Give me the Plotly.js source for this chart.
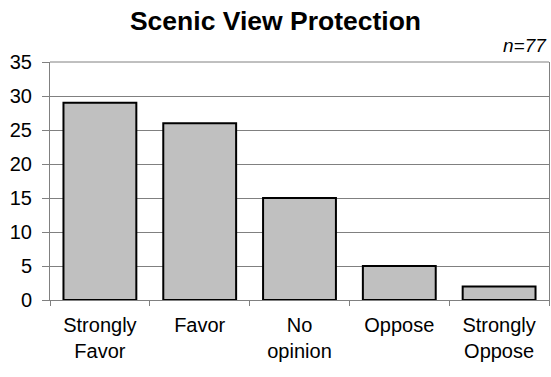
<!DOCTYPE html>
<html><head><meta charset="utf-8">
<script src="https://cdn.plot.ly/plotly-3.0.1.min.js"></script>
<style>html,body{margin:0;padding:0;background:#fff;}#chart{width:551px;height:377px;}</style>
</head><body><div id="chart"></div>
<script>
const categories = ["Strongly<br>Favor", "Favor", "No<br>opinion", "Oppose", "Strongly<br>Oppose"];
const counts = [29, 26, 15, 5, 2];
const yTicks = [0, 5, 10, 15, 20, 25, 30, 35];
const titleText = "Scenic View Protection";
const noteText = "n=77";

const font = "Liberation Sans, Arial, sans-serif";
Plotly.newPlot("chart", [{
  type: "bar", x: categories, y: counts,
  marker: {color: "#c0c0c0", line: {color: "#000", width: 2}},
  hoverinfo: "none"
}], {
  width: 551, height: 377,
  margin: {l: 50, r: 2, t: 62, b: 77},
  paper_bgcolor: "#fff", plot_bgcolor: "#fff",
  bargap: 0.27,
  showlegend: false,
  font: {family: font, size: 19, color: "#000"},
  title: {text: "<b>" + titleText + "</b>", font: {family: font, size: 26.5, color: "#000"}, x: 0.5, xanchor: "center", y: 0.945, yanchor: "middle"},
  xaxis: {
    type: "category", tickson: "boundaries", ticks: "outside", ticklen: 5, tickcolor: "#808080",
    showline: true, linecolor: "#808080", linewidth: 1, showgrid: false,
    tickfont: {size: 20}, ticklabelstandoff: 7, fixedrange: true
  },
  yaxis: {
    range: [0, 35], tickvals: yTicks, ticks: "outside", ticklen: 7, tickcolor: "#808080",
    showline: true, linecolor: "#808080", linewidth: 1, mirror: true,
    showgrid: true, gridcolor: "#808080", gridwidth: 1, zeroline: false,
    tickfont: {size: 20}, ticklabelstandoff: 6, fixedrange: true
  },
  shapes: [{type: "line", xref: "paper", yref: "paper", x0: 0, x1: 1, y0: 1, y1: 1, line: {color: "#808080", width: 1}}],
  annotations: [{text: "<i>" + noteText + "</i>", xref: "paper", yref: "paper", x: 1, y: 1, xanchor: "right", yanchor: "bottom", yshift: 4, showarrow: false, font: {size: 19}}]
}, {displayModeBar: false, staticPlot: true});
</script></body></html>
